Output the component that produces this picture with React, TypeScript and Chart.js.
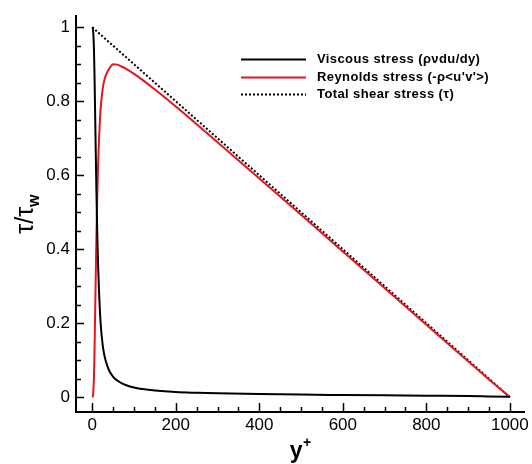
import React, { useEffect, useRef } from "react";
import { Chart, registerables } from "chart.js";

Chart.register(...registerables);

// Wall-normal distance in wall units
const yPlus = [0, 1, 2, 3, 4, 5, 6, 7, 8, 9, 10, 12, 14, 16, 18, 20, 25, 30, 35, 40, 50, 60, 70, 80, 100, 120, 150, 200, 250, 300, 400, 500, 600, 700, 800, 900, 950, 1000];
// Viscous stress (rho nu du/dy) / tau_w
const viscous = [1.0, 0.998, 0.99, 0.972, 0.94, 0.89, 0.825, 0.755, 0.685, 0.615, 0.55, 0.44, 0.355, 0.29, 0.24, 0.2, 0.14, 0.108, 0.088, 0.073, 0.055, 0.045, 0.038, 0.033, 0.026, 0.022, 0.018, 0.014, 0.012, 0.0105, 0.0085, 0.007, 0.006, 0.005, 0.004, 0.003, 0.002, 0.001];
// Reynolds shear stress (-rho <u'v'>) / tau_w
const reynolds = [0.0, 0.001, 0.008, 0.025, 0.056, 0.105, 0.169, 0.238, 0.307, 0.376, 0.44, 0.548, 0.631, 0.694, 0.742, 0.78, 0.835, 0.862, 0.877, 0.887, 0.9, 0.899, 0.894, 0.888, 0.874, 0.858, 0.832, 0.786, 0.738, 0.6895, 0.5915, 0.493, 0.394, 0.295, 0.196, 0.097, 0.048, 0.0];
// Total shear stress: straight line from wall to centreline
const totalYPlus = [0, 1000];
const totalStress = [1, 0];

const xMajorTicks = [0, 200, 400, 600, 800, 1000];
const xMinorTicks = [50, 100, 150, 250, 300, 350, 450, 500, 550, 650, 700, 750, 850, 900, 950];
const yMajorTicks = [0, 0.2, 0.4, 0.6, 0.8, 1];
const yMinorTicks = [0.05, 0.1, 0.15, 0.25, 0.3, 0.35, 0.45, 0.5, 0.55, 0.65, 0.7, 0.75, 0.85, 0.9, 0.95];
const yTickLabels = ["0", "0.2", "0.4", "0.6", "0.8", "1"];
const xTickLabels = ["0", "200", "400", "600", "800", "1000"];

const legendItems = [
  { label: "Viscous stress (\u03c1\u03bddu/dy)", color: "#000000", dash: [] as number[], width: 2 },
  { label: "Reynolds stress (-\u03c1<u'v'>)", color: "#e8141c", dash: [] as number[], width: 2 },
  { label: "Total shear stress (\u03c4)", color: "#000000", dash: [2, 2], width: 2 },
];

const FONT = "'Liberation Sans', Arial, sans-serif";

const decorPlugin = {
  id: "decor",
  afterDraw(chart: any) {
    const ctx = chart.ctx as CanvasRenderingContext2D;
    const xs = chart.scales.x;
    const ys = chart.scales.y;
    const area = chart.chartArea;
    ctx.save();
    ctx.strokeStyle = "#000";
    ctx.lineWidth = 1.5;
    ctx.beginPath();
    // inward ticks on the bottom axis
    xMajorTicks.forEach((v) => {
      const px = Math.round(xs.getPixelForValue(v)) + 0.5;
      ctx.moveTo(px, area.bottom);
      ctx.lineTo(px, area.bottom - 9);
    });
    xMinorTicks.forEach((v) => {
      const px = Math.round(xs.getPixelForValue(v)) + 0.5;
      ctx.moveTo(px, area.bottom);
      ctx.lineTo(px, area.bottom - 5);
    });
    // inward ticks on the left axis
    yMajorTicks.forEach((v) => {
      const py = Math.round(ys.getPixelForValue(v)) + 0.5;
      ctx.moveTo(area.left, py);
      ctx.lineTo(area.left + 8, py);
    });
    yMinorTicks.forEach((v) => {
      const py = Math.round(ys.getPixelForValue(v)) + 0.5;
      ctx.moveTo(area.left, py);
      ctx.lineTo(area.left + 5, py);
    });
    ctx.stroke();

    // x axis title: y+
    ctx.fillStyle = "#000";
    ctx.textBaseline = "alphabetic";
    ctx.font = `bold 23px ${FONT}`;
    const yw = ctx.measureText("y").width;
    ctx.font = `bold 14px ${FONT}`;
    const pw = ctx.measureText("+").width;
    const cx = (area.left + area.right) / 2;
    const startX = cx - (yw + pw) / 2;
    ctx.font = `bold 23px ${FONT}`;
    ctx.textAlign = "left";
    ctx.fillText("y", startX, 458);
    ctx.font = `bold 14px ${FONT}`;
    ctx.fillText("+", startX + yw + 0.5, 447);

    // y axis title: tau / tau_w
    ctx.save();
    ctx.translate(33, (area.top + area.bottom) / 2);
    ctx.rotate(-Math.PI / 2);
    ctx.font = `25px ${FONT}`;
    const mainW = ctx.measureText("\u03c4/\u03c4").width;
    ctx.font = `bold 16px ${FONT}`;
    const subW = ctx.measureText("w").width;
    const sx = -(mainW + subW) / 2;
    ctx.font = `25px ${FONT}`;
    ctx.fillText("\u03c4/\u03c4", sx, 0);
    ctx.font = `bold 16px ${FONT}`;
    ctx.fillText("w", sx + mainW, 6);
    ctx.restore();

    // legend
    const rowY = [59, 77, 94];
    legendItems.forEach((item, i) => {
      ctx.save();
      ctx.strokeStyle = item.color;
      ctx.lineWidth = item.width;
      ctx.setLineDash(item.dash);
      ctx.beginPath();
      ctx.moveTo(241, rowY[i] + 0.5);
      ctx.lineTo(306, rowY[i] + 0.5);
      ctx.stroke();
      ctx.restore();
      ctx.save();
      ctx.fillStyle = "#000";
      ctx.font = `bold 13px ${FONT}`;
      (ctx as any).letterSpacing = "0.4px";
      ctx.textBaseline = "middle";
      ctx.textAlign = "left";
      ctx.fillText(item.label, 317, rowY[i]);
      ctx.restore();
    });
    ctx.restore();
  },
};

export default function App() {
  const canvasRef = useRef<HTMLCanvasElement | null>(null);

  useEffect(() => {
    if (!canvasRef.current) return;
    const chart = new Chart(canvasRef.current, {
      type: "line",
      data: {
        datasets: [
          {
            label: legendItems[0].label,
            data: yPlus.map((x, i) => ({ x, y: viscous[i] })),
            borderColor: "#000000",
            borderWidth: 2,
            pointRadius: 0,
            cubicInterpolationMode: "monotone",
          },
          {
            label: legendItems[1].label,
            data: yPlus.map((x, i) => ({ x, y: reynolds[i] })),
            borderColor: "#e8141c",
            borderWidth: 2,
            pointRadius: 0,
            cubicInterpolationMode: "monotone",
          },
          {
            label: legendItems[2].label,
            data: totalYPlus.map((x, i) => ({ x, y: totalStress[i] })),
            borderColor: "#000000",
            borderWidth: 2,
            borderDash: [2, 2],
            pointRadius: 0,
          },
        ],
      },
      options: {
        animation: false,
        responsive: false,
        maintainAspectRatio: false,
        layout: { padding: { top: 9, right: 7, left: 0, bottom: 0 } },
        plugins: { legend: { display: false }, tooltip: { enabled: false } },
        scales: {
          x: {
            type: "linear",
            min: -39,
            max: 1035,
            grid: { display: false, drawTicks: false },
            border: { display: true, color: "#000", width: 2 },
            ticks: {
              color: "#000",
              font: { family: FONT, size: 17 },
              padding: 3,
              callback: (v: any) => {
                const idx = xMajorTicks.indexOf(Number(v));
                return idx >= 0 ? xTickLabels[idx] : "";
              },
            },
            afterBuildTicks: (scale: any) => {
              scale.ticks = xMajorTicks.map((value) => ({ value }));
            },
            afterFit: (scale: any) => {
              scale.height = 52;
            },
          },
          y: {
            type: "linear",
            min: -0.04,
            max: 1.03,
            grid: { display: false, drawTicks: false },
            border: { display: true, color: "#000", width: 2 },
            ticks: {
              color: "#000",
              font: { family: FONT, size: 17 },
              padding: 6,
              callback: (v: any) => {
                const idx = yMajorTicks.findIndex((t) => Math.abs(t - Number(v)) < 1e-9);
                return idx >= 0 ? yTickLabels[idx] : "";
              },
            },
            afterBuildTicks: (scale: any) => {
              scale.ticks = yMajorTicks.map((value) => ({ value }));
            },
            afterFit: (scale: any) => {
              scale.width = 76;
            },
          },
        },
      },
      plugins: [decorPlugin],
    } as any);
    return () => chart.destroy();
  }, []);

  return (
    <div style={{ position: "fixed", left: 0, top: 0, width: 532, height: 464, background: "#fff" }}>
      <canvas ref={canvasRef} width={532} height={464} style={{ width: 532, height: 464 }} />
    </div>
  );
}
